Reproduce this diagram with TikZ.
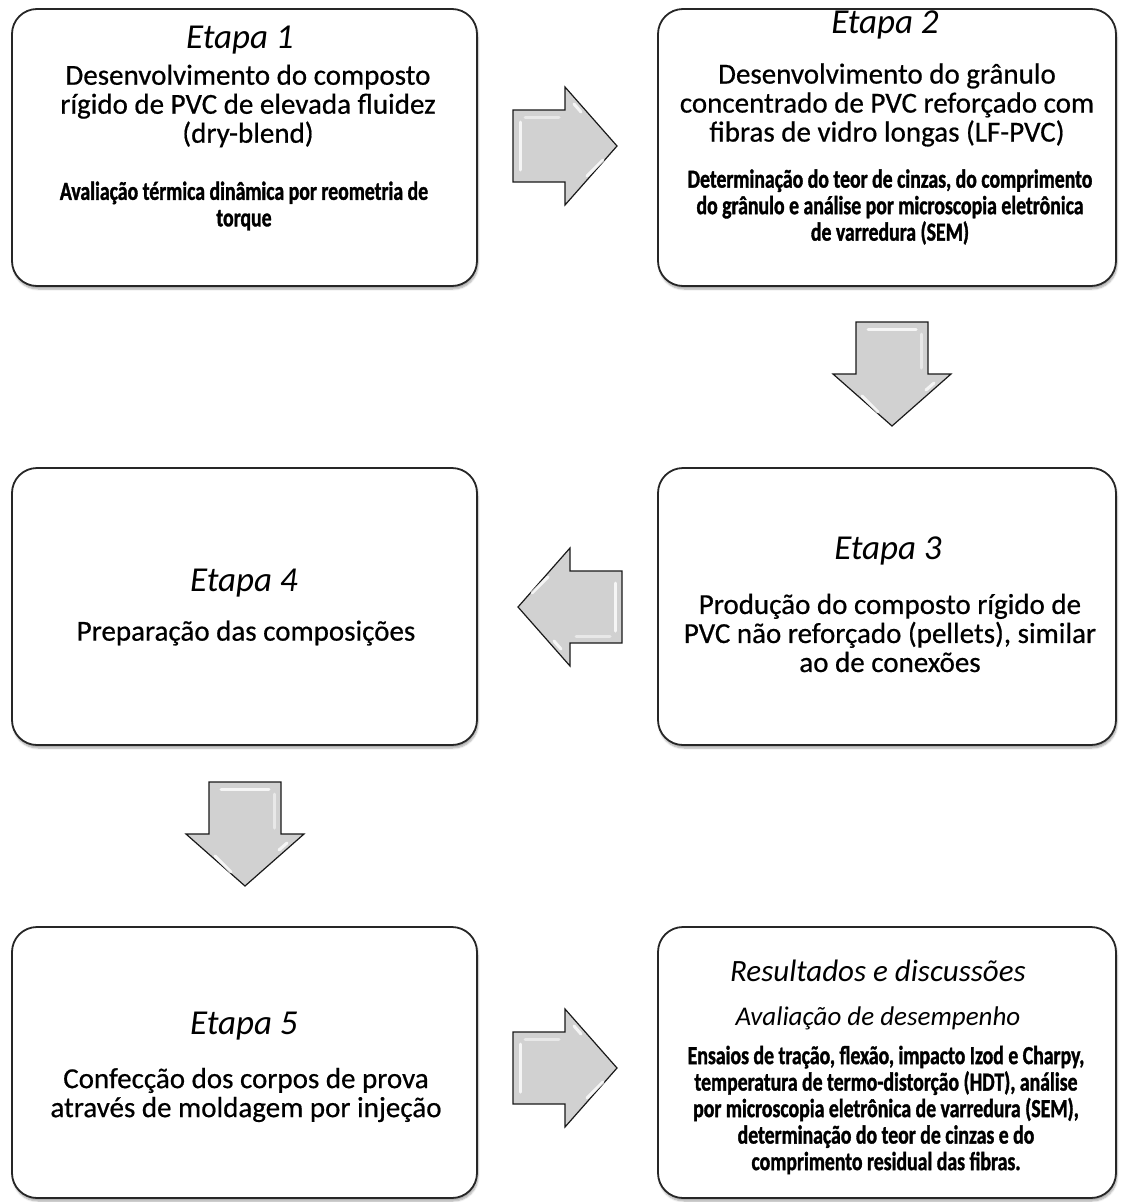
\documentclass[tikz,border=0pt]{standalone}
\usepackage{fontspec}
\setmainfont{Carlito}
\newfontfamily\bodyfont[FakeBold=0.6]{Carlito}
\newfontfamily\cond[FakeStretch=0.76,FakeBold=1.3]{Carlito}
\usetikzlibrary{shadows.blur,calc}
\tikzset{
  box/.style={draw=black!85, line width=1.8pt, rounded corners=25pt, fill=white, inner sep=0pt,
    blur shadow={shadow xshift=1pt,shadow yshift=-3pt,shadow blur steps=6,shadow opacity=35}},
  ttl/.style={font=\fontsize{35}{38}\selectfont\itshape, align=center, inner sep=0pt},
  ttlb/.style={font=\fontsize{31}{36}\selectfont\itshape, align=center, inner sep=0pt},
  sub/.style={font=\fontsize{27}{30}\selectfont\itshape, align=center, inner sep=0pt},
  body/.style={font=\bodyfont\fontsize{29}{29}\selectfont, align=center, inner sep=0pt},
  small/.style={font=\cond\bfseries\fontsize{26}{26.5}\selectfont, align=center, inner sep=0pt},
  arrowfill/.style={fill=black!18, draw=black!90, line width=1.2pt, line join=miter},
  bevel/.style={draw=white, line width=3pt, opacity=0.8, line cap=round},
}
\newcommand\blockarr[3]{%
  \begin{scope}[shift={(#1,#2)}, rotate=#3]
    \path[arrowfill] (-52,-36) -- (0,-36) -- (0,-59) -- (52,0) -- (0,59) -- (0,36) -- (-52,36) -- cycle;
    \draw[bevel] (-45,-24) -- (-45,24);
    \draw[bevel, opacity=0.5] (-40,-29) -- (-6,-29);
    \draw[bevel] (9,-42) -- (16,-34);
    \draw[bevel] (22,30) -- (38,14);
  \end{scope}}
\begin{document}
\begin{tikzpicture}[x=1pt,y=-1pt]
\useasboundingbox (0,0) rectangle (1122,1202);
% boxes
\node[box, minimum width=465pt, minimum height=277pt] (b1) at (244.5,147.5) {};
\node[box, minimum width=458pt, minimum height=277pt] (b2) at (887,147.5) {};
\node[box, minimum width=458pt, minimum height=277pt] (b3) at (887,606.5) {};
\node[box, minimum width=465pt, minimum height=277pt] (b4) at (244.5,606.5) {};
\node[box, minimum width=465pt, minimum height=271pt] (b5) at (244.5,1062.5) {};
\node[box, minimum width=458pt, minimum height=271pt] (b6) at (887,1062.5) {};
% arrows
\blockarr{565}{146}{0}
\blockarr{892}{374}{-90}
\blockarr{570}{607}{180}
\blockarr{245}{834}{-90}
\blockarr{565}{1068}{0}
% box 1
\node[ttl] (e1) at (240,40) {Etapa 1};
\node[body] (d1) at (248,106) {Desenvolvimento do composto\\rígido de PVC de elevada fluidez\\(dry-blend)};
\node[small] (s1) at (244,206) {Avaliação térmica dinâmica por reometria de\\torque};
% box 2
\node[ttl] (e2) at (885,25) {Etapa 2};
\node[body] (d2) at (887,105) {Desenvolvimento do grânulo\\concentrado de PVC reforçado com\\fibras de vidro longas (LF-PVC)};
\node[small] (s2) at (890,207) {Determinação do teor de cinzas, do comprimento\\do grânulo e análise por microscopia eletrônica\\de varredura (SEM)};
% box 3
\node[ttl] (e3) at (888,551) {Etapa 3};
\node[body] (d3) at (890,633) {Produção do composto rígido de\\PVC não reforçado (pellets), similar\\ao de conexões};
% box 4
\node[ttl] (e4) at (244,583) {Etapa 4};
\node[body] (d4) at (246,633) {Preparação das composições};
% box 5
\node[ttl] (e5) at (244,1026) {Etapa 5};
\node[body] (d5) at (246,1095) {Confecção dos corpos de prova\\através de moldagem por injeção};
% box 6
\node[ttlb] (e6) at (878,971) {Resultados e discussões};
\node[sub] (a6) at (878,1018) {Avaliação de desempenho};
\node[small] (s6) at (886,1110) {Ensaios de tração, flexão, impacto Izod e Charpy,\\temperatura de termo-distorção (HDT), análise\\por microscopia eletrônica de varredura (SEM),\\determinação do teor de cinzas e do\\comprimento residual das fibras.};
\end{tikzpicture}
\end{document}
